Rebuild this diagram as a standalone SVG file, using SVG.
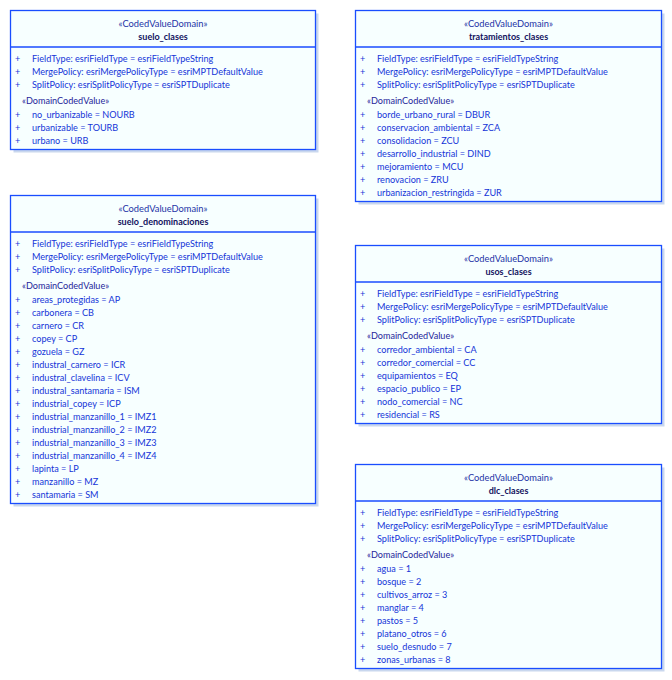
<svg xmlns="http://www.w3.org/2000/svg" width="672" height="680" viewBox="0 0 672 680">
<style>
text{font-family:Lato,"Liberation Sans",sans-serif;font-size:9.1px}
.shadow{fill:#c9d7ee}
.box{fill:#f7ffff;stroke:#1a4dff;stroke-width:1.3}
.div{stroke:#1a4dff;stroke-width:1.3}
.st{fill:#2333a6;text-anchor:middle;font-size:9.3px}
.nm{fill:#12125e;text-anchor:middle;font-weight:bold;font-size:9px}
.a{fill:#1535d8}
.dcv{fill:#25259a}
</style>
<rect width="672" height="680" fill="#ffffff"/>
<g id="connectors"/>

<g id="suelo_clases" transform="translate(10.5,10.5)">
<rect class="shadow" x="3" y="3" width="305" height="139"/>
<rect class="box" x="0" y="0" width="305" height="139"/>
<text class="st" x="152.5" y="16">«CodedValueDomain»</text>
<text class="nm" x="152.5" y="29">suelo_clases</text>
<line class="div" x1="0" y1="36.5" x2="305" y2="36.5"/>
<text class="a" x="4.5" y="51">+</text><text class="a" x="21.5" y="51">FieldType: esriFieldType = esriFieldTypeString</text>
<text class="a" x="4.5" y="64">+</text><text class="a" x="21.5" y="64">MergePolicy: esriMergePolicyType = esriMPTDefaultValue</text>
<text class="a" x="4.5" y="77">+</text><text class="a" x="21.5" y="77">SplitPolicy: esriSplitPolicyType = esriSPTDuplicate</text>
<text class="dcv" x="11.5" y="93.5">«DomainCodedValue»</text>
<text class="a" x="4.5" y="107">+</text><text class="a" x="21.5" y="107">no_urbanizable = NOURB</text>
<text class="a" x="4.5" y="120">+</text><text class="a" x="21.5" y="120">urbanizable = TOURB</text>
<text class="a" x="4.5" y="133">+</text><text class="a" x="21.5" y="133">urbano = URB</text>
</g>

<g id="tratamientos_clases" transform="translate(355.5,10.5)">
<rect class="shadow" x="3" y="3" width="306" height="191"/>
<rect class="box" x="0" y="0" width="306" height="191"/>
<text class="st" x="153" y="16">«CodedValueDomain»</text>
<text class="nm" x="153" y="29">tratamientos_clases</text>
<line class="div" x1="0" y1="36.5" x2="306" y2="36.5"/>
<text class="a" x="4.5" y="51">+</text><text class="a" x="21.5" y="51">FieldType: esriFieldType = esriFieldTypeString</text>
<text class="a" x="4.5" y="64">+</text><text class="a" x="21.5" y="64">MergePolicy: esriMergePolicyType = esriMPTDefaultValue</text>
<text class="a" x="4.5" y="77">+</text><text class="a" x="21.5" y="77">SplitPolicy: esriSplitPolicyType = esriSPTDuplicate</text>
<text class="dcv" x="11.5" y="93.5">«DomainCodedValue»</text>
<text class="a" x="4.5" y="107">+</text><text class="a" x="21.5" y="107">borde_urbano_rural = DBUR</text>
<text class="a" x="4.5" y="120">+</text><text class="a" x="21.5" y="120">conservacion_ambiental = ZCA</text>
<text class="a" x="4.5" y="133">+</text><text class="a" x="21.5" y="133">consolidacion = ZCU</text>
<text class="a" x="4.5" y="146">+</text><text class="a" x="21.5" y="146">desarrollo_industrial = DIND</text>
<text class="a" x="4.5" y="159">+</text><text class="a" x="21.5" y="159">mejoramiento = MCU</text>
<text class="a" x="4.5" y="172">+</text><text class="a" x="21.5" y="172">renovacion = ZRU</text>
<text class="a" x="4.5" y="185">+</text><text class="a" x="21.5" y="185">urbanizacion_restringida = ZUR</text>
</g>

<g id="suelo_denominaciones" transform="translate(10.5,195.5)">
<rect class="shadow" x="3" y="3" width="305" height="308"/>
<rect class="box" x="0" y="0" width="305" height="308"/>
<text class="st" x="152.5" y="16">«CodedValueDomain»</text>
<text class="nm" x="152.5" y="29">suelo_denominaciones</text>
<line class="div" x1="0" y1="36.5" x2="305" y2="36.5"/>
<text class="a" x="4.5" y="51">+</text><text class="a" x="21.5" y="51">FieldType: esriFieldType = esriFieldTypeString</text>
<text class="a" x="4.5" y="64">+</text><text class="a" x="21.5" y="64">MergePolicy: esriMergePolicyType = esriMPTDefaultValue</text>
<text class="a" x="4.5" y="77">+</text><text class="a" x="21.5" y="77">SplitPolicy: esriSplitPolicyType = esriSPTDuplicate</text>
<text class="dcv" x="11.5" y="93.5">«DomainCodedValue»</text>
<text class="a" x="4.5" y="107">+</text><text class="a" x="21.5" y="107">areas_protegidas = AP</text>
<text class="a" x="4.5" y="120">+</text><text class="a" x="21.5" y="120">carbonera = CB</text>
<text class="a" x="4.5" y="133">+</text><text class="a" x="21.5" y="133">carnero = CR</text>
<text class="a" x="4.5" y="146">+</text><text class="a" x="21.5" y="146">copey = CP</text>
<text class="a" x="4.5" y="159">+</text><text class="a" x="21.5" y="159">gozuela = GZ</text>
<text class="a" x="4.5" y="172">+</text><text class="a" x="21.5" y="172">industral_carnero = ICR</text>
<text class="a" x="4.5" y="185">+</text><text class="a" x="21.5" y="185">industral_clavelina = ICV</text>
<text class="a" x="4.5" y="198">+</text><text class="a" x="21.5" y="198">industral_santamaria = ISM</text>
<text class="a" x="4.5" y="211">+</text><text class="a" x="21.5" y="211">industrial_copey = ICP</text>
<text class="a" x="4.5" y="224">+</text><text class="a" x="21.5" y="224">industrial_manzanillo_1 = IMZ1</text>
<text class="a" x="4.5" y="237">+</text><text class="a" x="21.5" y="237">industrial_manzanillo_2 = IMZ2</text>
<text class="a" x="4.5" y="250">+</text><text class="a" x="21.5" y="250">industrial_manzanillo_3 = IMZ3</text>
<text class="a" x="4.5" y="263">+</text><text class="a" x="21.5" y="263">industrial_manzanillo_4 = IMZ4</text>
<text class="a" x="4.5" y="276">+</text><text class="a" x="21.5" y="276">lapinta = LP</text>
<text class="a" x="4.5" y="289">+</text><text class="a" x="21.5" y="289">manzanillo = MZ</text>
<text class="a" x="4.5" y="302">+</text><text class="a" x="21.5" y="302">santamaria = SM</text>
</g>

<g id="usos_clases" transform="translate(355.5,245.5)">
<rect class="shadow" x="3" y="3" width="306" height="178"/>
<rect class="box" x="0" y="0" width="306" height="178"/>
<text class="st" x="153" y="16">«CodedValueDomain»</text>
<text class="nm" x="153" y="29">usos_clases</text>
<line class="div" x1="0" y1="36.5" x2="306" y2="36.5"/>
<text class="a" x="4.5" y="51">+</text><text class="a" x="21.5" y="51">FieldType: esriFieldType = esriFieldTypeString</text>
<text class="a" x="4.5" y="64">+</text><text class="a" x="21.5" y="64">MergePolicy: esriMergePolicyType = esriMPTDefaultValue</text>
<text class="a" x="4.5" y="77">+</text><text class="a" x="21.5" y="77">SplitPolicy: esriSplitPolicyType = esriSPTDuplicate</text>
<text class="dcv" x="11.5" y="93.5">«DomainCodedValue»</text>
<text class="a" x="4.5" y="107">+</text><text class="a" x="21.5" y="107">corredor_ambiental = CA</text>
<text class="a" x="4.5" y="120">+</text><text class="a" x="21.5" y="120">corredor_comercial = CC</text>
<text class="a" x="4.5" y="133">+</text><text class="a" x="21.5" y="133">equipamientos = EQ</text>
<text class="a" x="4.5" y="146">+</text><text class="a" x="21.5" y="146">espacio_publico = EP</text>
<text class="a" x="4.5" y="159">+</text><text class="a" x="21.5" y="159">nodo_comercial = NC</text>
<text class="a" x="4.5" y="172">+</text><text class="a" x="21.5" y="172">residencial = RS</text>
</g>

<g id="dlc_clases" transform="translate(355.5,464.5)">
<rect class="shadow" x="3" y="3" width="306" height="204"/>
<rect class="box" x="0" y="0" width="306" height="204"/>
<text class="st" x="153" y="16">«CodedValueDomain»</text>
<text class="nm" x="153" y="29">dlc_clases</text>
<line class="div" x1="0" y1="36.5" x2="306" y2="36.5"/>
<text class="a" x="4.5" y="51">+</text><text class="a" x="21.5" y="51">FieldType: esriFieldType = esriFieldTypeString</text>
<text class="a" x="4.5" y="64">+</text><text class="a" x="21.5" y="64">MergePolicy: esriMergePolicyType = esriMPTDefaultValue</text>
<text class="a" x="4.5" y="77">+</text><text class="a" x="21.5" y="77">SplitPolicy: esriSplitPolicyType = esriSPTDuplicate</text>
<text class="dcv" x="11.5" y="93.5">«DomainCodedValue»</text>
<text class="a" x="4.5" y="107">+</text><text class="a" x="21.5" y="107">agua = 1</text>
<text class="a" x="4.5" y="120">+</text><text class="a" x="21.5" y="120">bosque = 2</text>
<text class="a" x="4.5" y="133">+</text><text class="a" x="21.5" y="133">cultivos_arroz = 3</text>
<text class="a" x="4.5" y="146">+</text><text class="a" x="21.5" y="146">manglar = 4</text>
<text class="a" x="4.5" y="159">+</text><text class="a" x="21.5" y="159">pastos = 5</text>
<text class="a" x="4.5" y="172">+</text><text class="a" x="21.5" y="172">platano_otros = 6</text>
<text class="a" x="4.5" y="185">+</text><text class="a" x="21.5" y="185">suelo_desnudo = 7</text>
<text class="a" x="4.5" y="198">+</text><text class="a" x="21.5" y="198">zonas_urbanas = 8</text>
</g>
</svg>
